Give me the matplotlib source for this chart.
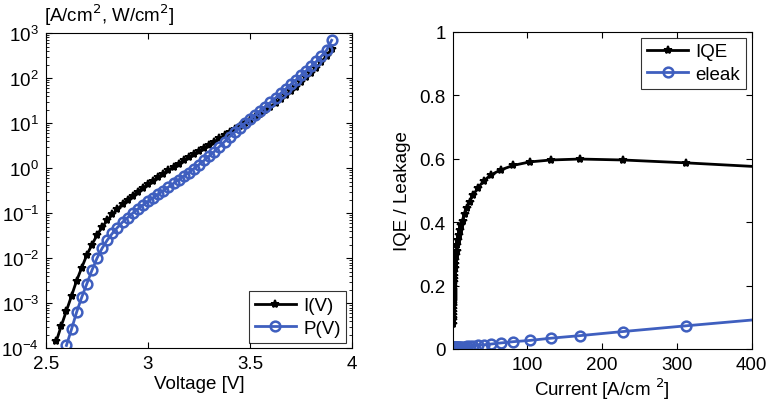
import matplotlib
matplotlib.use("Agg")
import matplotlib.pyplot as plt
from matplotlib.ticker import LogLocator, NullFormatter

plt.rcParams['font.family'] = ['Liberation Sans', 'DejaVu Sans']

# Left panel: I(V) and P(V), 25 mV steps
voltage_i = [2.55, 2.575, 2.6, 2.625, 2.65, 2.675, 2.7, 2.725, 2.75, 2.775,
             2.8, 2.825, 2.85, 2.875, 2.9, 2.925, 2.95, 2.975, 3.0, 3.025,
             3.05, 3.075, 3.1, 3.125, 3.15, 3.175, 3.2, 3.225, 3.25, 3.275,
             3.3, 3.325, 3.35, 3.375, 3.4, 3.425, 3.45, 3.475, 3.5, 3.525,
             3.55, 3.575, 3.6, 3.625, 3.65, 3.675, 3.7, 3.725, 3.75, 3.775,
             3.8, 3.825, 3.85, 3.875, 3.9]
current_i = [1.41e-4, 3.16e-4, 6.76e-4, 1.45e-3, 3.16e-3, 6.17e-3, 1.17e-2, 2.00e-2, 3.24e-2, 4.90e-2,
             6.92e-2, 9.33e-2, 0.123, 0.158, 0.200, 0.245, 0.302, 0.363, 0.437, 0.525,
             0.631, 0.759, 0.891, 1.07, 1.26, 1.48, 1.74, 2.04, 2.40, 2.82,
             3.31, 3.89, 4.57, 5.37, 6.31, 7.41, 8.51, 10.0, 11.7, 13.8,
             16.2, 19.1, 22.9, 27.5, 33.9, 41.7, 51.3, 64.6, 81.3, 103.5,
             131.5, 170.2, 228, 312, 447]

voltage_p = voltage_i[2:]
power_p = [1.15e-4, 2.63e-4, 6.31e-4, 1.35e-3, 2.69e-3, 5.37e-3, 1.00e-2, 1.66e-2,
           2.51e-2, 3.55e-2, 4.79e-2, 6.31e-2, 7.94e-2, 0.100, 0.123, 0.151,
           0.182, 0.219, 0.263, 0.316, 0.380, 0.457, 0.550, 0.661, 0.794, 0.977,
           1.20, 1.48, 1.86, 2.34, 3.02, 3.89, 5.01, 6.31, 7.94, 10.0,
           12.3, 15.1, 18.6, 23.4, 28.8, 36.3, 45.7, 57.5, 72.4, 91.2,
           115, 145, 182, 234, 309, 417, 692]

# Right panel: IQE and leakage vs current density (same operating points)
iqe = [0.080, 0.090, 0.099, 0.108, 0.118, 0.126, 0.134, 0.140, 0.146, 0.151,
       0.155, 0.159, 0.162, 0.165, 0.168, 0.171, 0.174, 0.177, 0.180, 0.183,
       0.186, 0.190, 0.194, 0.200, 0.205, 0.212, 0.220, 0.230, 0.242, 0.255,
       0.268, 0.281, 0.295, 0.310, 0.327, 0.345, 0.360, 0.376, 0.390, 0.405,
       0.425, 0.445, 0.465, 0.485, 0.508, 0.530, 0.549, 0.565, 0.579, 0.590,
       0.596, 0.599, 0.596, 0.587, 0.570]
eleak = [0.0020, 0.0021, 0.0022, 0.0023, 0.0024, 0.0025, 0.0026, 0.0027, 0.0028, 0.0029,
         0.0030, 0.0031, 0.0032, 0.0033, 0.0034, 0.0035, 0.0036, 0.0037, 0.0038, 0.0039,
         0.0040, 0.0041, 0.0042, 0.0043, 0.0044, 0.0045, 0.0046, 0.0047, 0.0048, 0.0049,
         0.0050, 0.0052, 0.0054, 0.0056, 0.0058, 0.0060, 0.0062, 0.0065, 0.0068, 0.0072,
         0.0077, 0.0083, 0.0090, 0.0100, 0.0115, 0.0130, 0.0155, 0.0190, 0.0230, 0.0270,
         0.0340, 0.0420, 0.0550, 0.0730, 0.1010]

blue = '#3f5fbf'
fs = 13.5

fig = plt.figure(figsize=(7.67, 4.06), dpi=100)
ax1 = fig.add_axes([0.060, 0.140, 0.399, 0.776])
ax2 = fig.add_axes([0.590, 0.138, 0.390, 0.781])

black_style = dict(color='black', lw=2, marker='*', ms=6, mew=1.4)
blue_style = dict(color=blue, lw=2, marker='o', ms=7, mfc='none', mew=1.8)

ax1.semilogy(voltage_i, current_i, '-', label='I(V)', **black_style)
ax1.semilogy(voltage_p, power_p, '-', label='P(V)', **blue_style)
ax1.set_xlim(2.5, 4)
ax1.set_ylim(1e-4, 1e3)
ax1.set_xticks([2.5, 3, 3.5, 4])
ax1.set_xticklabels(['2.5', '3', '3.5', '4'])
ax1.yaxis.set_major_locator(LogLocator(base=10, numticks=10))
ax1.yaxis.set_minor_locator(LogLocator(base=10, subs=range(2, 10), numticks=10))
ax1.yaxis.set_minor_formatter(NullFormatter())
ax1.set_xlabel('Voltage [V]', fontsize=fs, labelpad=2)
fig.text(0.057, 0.962, '[A/cm$^2$, W/cm$^2$]', fontsize=fs, ha='left', va='center')
leg1 = ax1.legend(loc='lower right', fontsize=fs, fancybox=False, edgecolor='black',
                  handlelength=2.2, borderpad=0.3, labelspacing=0.3, handletextpad=0.4,
                  borderaxespad=0.3)
leg1.get_frame().set_linewidth(0.8)

ax2.plot(current_i, iqe, '-', label='IQE', **black_style)
ax2.plot(current_i, eleak, '-', label='eleak', **blue_style)
ax2.set_xlim(0, 400)
ax2.set_ylim(0, 1)
ax2.set_xticks([100, 200, 300, 400])
ax2.set_yticks([0, 0.2, 0.4, 0.6, 0.8, 1])
ax2.set_yticklabels(['0', '0.2', '0.4', '0.6', '0.8', '1'])
ax2.set_xlabel('Current [A/cm $^2$]', fontsize=fs, labelpad=2)
ax2.set_ylabel('IQE / Leakage', fontsize=fs, labelpad=6)
leg2 = ax2.legend(loc='upper right', fontsize=fs, fancybox=False, edgecolor='black',
                  handlelength=2.2, borderpad=0.3, labelspacing=0.3, handletextpad=0.4,
                  borderaxespad=0.3)
leg2.get_frame().set_linewidth(0.8)

for ax in (ax1, ax2):
    ax.tick_params(which='both', direction='in', top=True, right=True,
                   labelsize=fs, pad=5)
    ax.tick_params(which='major', length=4)
    ax.tick_params(which='minor', length=2)
    for s in ax.spines.values():
        s.set_linewidth(0.8)

fig.savefig('out.png', dpi=100)
